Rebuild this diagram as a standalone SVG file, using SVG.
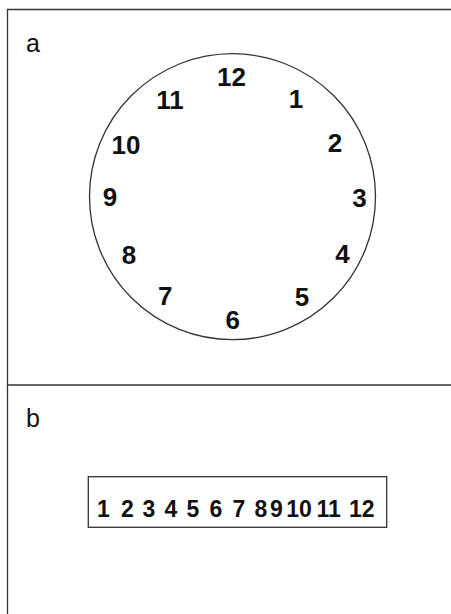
<svg xmlns="http://www.w3.org/2000/svg" width="451" height="614" viewBox="0 0 451 614">
<style>
.ln{stroke:#333;stroke-width:1.3;fill:none}
.lab{font-family:"Liberation Sans",Arial,sans-serif;font-size:25px;fill:#111}
.num{font-family:"Liberation Sans",Arial,sans-serif;font-size:26px;font-weight:bold;fill:#111;text-anchor:middle}
.seq{font-family:"Liberation Sans",Arial,sans-serif;font-size:23px;font-weight:bold;fill:#111;text-anchor:middle}
</style>
<rect width="451" height="614" fill="#fff"/>
<g id="frame">
<path class="ln" d="M7.5,614 V9.5 H451"/>
<path class="ln" d="M7.5,385 H451"/>
</g>
<g id="panel-a">
<text class="lab" x="26" y="52">a</text>
<circle class="ln" cx="232.5" cy="196.7" r="143"/>
<text class="num" x="231.5" y="86">12</text>
<text class="num" x="296" y="107.5">1</text>
<text class="num" x="335" y="152">2</text>
<text class="num" x="359.5" y="207">3</text>
<text class="num" x="342.5" y="262.5">4</text>
<text class="num" x="302" y="305.5">5</text>
<text class="num" x="232.7" y="328.5">6</text>
<text class="num" x="165.3" y="305">7</text>
<text class="num" x="129" y="263.5">8</text>
<text class="num" x="110" y="205.5">9</text>
<text class="num" x="126" y="153.5">10</text>
<text class="num" x="170" y="109">11</text>
</g>
<g id="panel-b">
<text class="lab" x="26" y="427">b</text>
<rect class="ln" x="88.3" y="476.7" width="298.4" height="50.6"/>
<text class="seq" y="516.5"><tspan x="103.5">1</tspan><tspan x="127.5">2</tspan><tspan x="149">3</tspan><tspan x="171">4</tspan><tspan x="193">5</tspan><tspan x="216">6</tspan><tspan x="239">7</tspan><tspan x="261">8</tspan><tspan x="276.5">9</tspan><tspan x="299">10</tspan><tspan x="328.7">11</tspan><tspan x="361.7">12</tspan></text>
</g>
</svg>
